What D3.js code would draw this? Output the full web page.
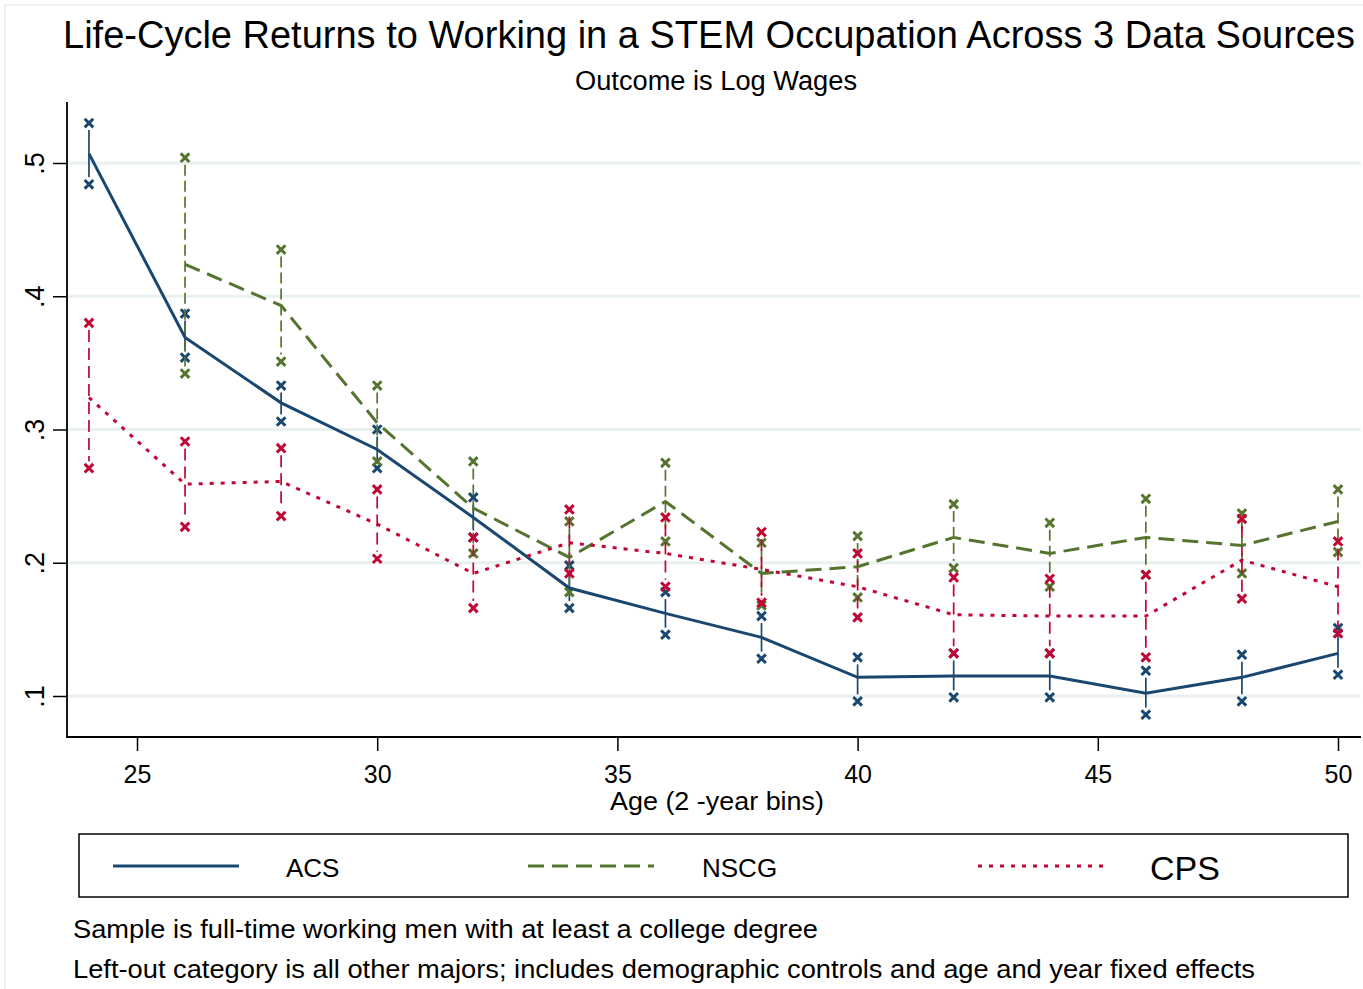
<!DOCTYPE html>
<html>
<head>
<meta charset="utf-8">
<script src="https://cdn.jsdelivr.net/npm/d3@7"></script>
<style>
  body { margin: 0; background: #fff; }
  svg { display: block; font-family: "Liberation Sans", Arial, sans-serif; }
</style>
</head>
<body>
<svg width="1363" height="989"></svg>
<script>
var ages = [24, 26, 28, 30, 32, 34, 36, 38, 40, 42, 44, 46, 48, 50];
var xTicks = [25, 30, 35, 40, 45, 50];
var yTicks = [0.1, 0.2, 0.3, 0.4, 0.5];

var acs   = [0.507, 0.369, 0.320, 0.285, 0.234, 0.181, 0.162, 0.144, 0.114, 0.115, 0.115, 0.102, 0.114, 0.132];
var acsLo = [0.484, 0.354, 0.306, 0.271, 0.219, 0.166, 0.146, 0.128, 0.096, 0.099, 0.099, 0.086, 0.096, 0.116];
var acsHi = [0.530, 0.387, 0.333, 0.300, 0.249, 0.198, 0.178, 0.160, 0.129, 0.132, 0.132, 0.119, 0.131, 0.151];

var nscg   = [null, 0.424, 0.393, 0.305, 0.241, 0.204, 0.246, 0.192, 0.197, 0.219, 0.207, 0.219, 0.213, 0.231];
var nscgLo = [null, 0.342, 0.351, 0.276, 0.207, 0.178, 0.216, 0.168, 0.174, 0.196, 0.182, 0.191, 0.192, 0.208];
var nscgHi = [null, 0.504, 0.435, 0.333, 0.276, 0.231, 0.275, 0.215, 0.220, 0.244, 0.230, 0.248, 0.237, 0.255];

var cps   = [0.324, 0.259, 0.261, 0.229, 0.192, 0.215, 0.207, 0.195, 0.182, 0.161, 0.160, 0.160, 0.202, 0.182];
var cpsLo = [0.271, 0.227, 0.235, 0.203, 0.166, 0.192, 0.182, 0.170, 0.159, 0.132, 0.132, 0.129, 0.173, 0.147];
var cpsHi = [0.380, 0.291, 0.286, 0.255, 0.219, 0.240, 0.234, 0.223, 0.207, 0.189, 0.188, 0.191, 0.233, 0.216];

var seriesNames = ["ACS", "NSCG", "CPS"];

var svg = d3.select("svg");
var x = d3.scaleLinear().domain([25, 50]).range([137, 1338]);
var y = d3.scaleLinear().domain([0.1, 0.5]).range([696, 163]);

var series = [
  { name: "ACS",  mid: acs,  lo: acsLo,  hi: acsHi,  color: "#1a476f", line: null,    bar: null },
  { name: "NSCG", mid: nscg, lo: nscgLo, hi: nscgHi, color: "#55752f", line: "16,8",  bar: "11,5" },
  { name: "CPS",  mid: cps,  lo: cpsLo,  hi: cpsHi,  color: "#c10534", line: "4,7",   bar: "12,6" }
];

function rows(s) {
  return ages.map(function(a, i) {
    return { age: a, mid: s.mid[i], lo: s.lo[i], hi: s.hi[i] };
  }).filter(function(d) { return d.mid != null; });
}

// little "x" marker
function cross(g, cx, cy, color) {
  var r = 4.3;
  g.append("path")
    .attr("d", "M" + (cx - r) + "," + (cy - r) + "L" + (cx + r) + "," + (cy + r) +
               "M" + (cx - r) + "," + (cy + r) + "L" + (cx + r) + "," + (cy - r))
    .attr("stroke", color)
    .attr("stroke-width", 3)
    .attr("fill", "none");
}

// faint outer frame
svg.append("rect")
  .attr("x", 5).attr("y", 5).attr("width", 1370).attr("height", 1000)
  .attr("fill", "none").attr("stroke", "#e6eeee").attr("stroke-width", 1.5);

// gridlines
svg.append("g").selectAll("line")
  .data(yTicks).enter().append("line")
    .attr("x1", 67).attr("x2", 1361)
    .attr("y1", function(d) { return y(d); })
    .attr("y2", function(d) { return y(d); })
    .attr("stroke", "#e8f0f0")
    .attr("stroke-width", 3);

// axes
var yAxis = svg.append("g")
  .attr("transform", "translate(67,0)")
  .call(d3.axisLeft(y).tickValues(yTicks).tickSize(14).tickFormat(function(d) { return d3.format(".1f")(d).replace(/^0/, ""); }));
yAxis.select(".domain").remove();
yAxis.selectAll(".tick line").attr("stroke", "#000").attr("stroke-width", 1.5);
yAxis.selectAll(".tick text")
  .attr("x", null).attr("dy", null)
  .attr("text-anchor", "middle")
  .attr("transform", "translate(-23,0) rotate(-90)")
  .attr("font-size", 27)
  .attr("font-family", "Liberation Sans, Arial, sans-serif")
  .attr("fill", "#000");

var xAxis = svg.append("g")
  .attr("transform", "translate(0,737)")
  .call(d3.axisBottom(x).tickValues(xTicks).tickSize(14).tickFormat(d3.format("d")));
xAxis.select(".domain").remove();
xAxis.selectAll(".tick line").attr("stroke", "#000").attr("stroke-width", 1.5);
xAxis.selectAll(".tick text")
  .attr("y", 46).attr("dy", null)
  .attr("font-size", 25)
  .attr("font-family", "Liberation Sans, Arial, sans-serif")
  .attr("fill", "#000");

svg.append("path")
  .attr("d", "M67,102V737H1361")
  .attr("fill", "none").attr("stroke", "#000").attr("stroke-width", 1.8);

// confidence bars with x caps
var bars = svg.append("g");
series.forEach(function(s) {
  rows(s).forEach(function(d) {
    var cx = x(d.age), yHi = y(d.hi), yLo = y(d.lo);
    bars.append("line")
      .attr("x1", cx).attr("x2", cx)
      .attr("y1", yHi + 7).attr("y2", yLo - 7)
      .attr("stroke", s.color)
      .attr("stroke-width", 1.7)
      .attr("stroke-dasharray", s.bar);
    cross(bars, cx, yHi, s.color);
    cross(bars, cx, yLo, s.color);
  });
});

// point estimate lines
var line = d3.line()
  .x(function(d) { return x(d.age); })
  .y(function(d) { return y(d.mid); });

series.forEach(function(s) {
  svg.append("path")
    .datum(rows(s))
    .attr("d", line)
    .attr("fill", "none")
    .attr("stroke", s.color)
    .attr("stroke-width", 3)
    .attr("stroke-dasharray", s.line);
});

// titles
svg.append("text")
  .attr("x", 709).attr("y", 48)
  .attr("text-anchor", "middle")
  .attr("font-size", 38)
  .attr("textLength", 1292).attr("lengthAdjust", "spacingAndGlyphs")
  .text("Life-Cycle Returns to Working in a STEM Occupation Across 3 Data Sources");

svg.append("text")
  .attr("x", 716).attr("y", 90)
  .attr("text-anchor", "middle")
  .attr("font-size", 27)
  .attr("textLength", 282).attr("lengthAdjust", "spacingAndGlyphs")
  .text("Outcome is Log Wages");

svg.append("text")
  .attr("x", 717).attr("y", 810)
  .attr("text-anchor", "middle")
  .attr("font-size", 26)
  .attr("textLength", 214).attr("lengthAdjust", "spacingAndGlyphs")
  .text("Age (2 -year bins)");

// legend
var legend = svg.append("g");
legend.append("rect")
  .attr("x", 79).attr("y", 834).attr("width", 1269).attr("height", 63)
  .attr("fill", "none").attr("stroke", "#000").attr("stroke-width", 1.5);

var legX = [113, 528, 978];
var legLabelX = [286, 702, 1150];
var legSize = [26, 26, 34];
series.forEach(function(s, i) {
  legend.append("line")
    .attr("x1", legX[i]).attr("x2", legX[i] + 126)
    .attr("y1", 866).attr("y2", 866)
    .attr("stroke", s.color)
    .attr("stroke-width", 3)
    .attr("stroke-dasharray", s.line);
  legend.append("text")
    .attr("x", legLabelX[i]).attr("y", i == 2 ? 880 : 877)
    .attr("font-size", legSize[i])
    .text(seriesNames[i]);
});

// notes
svg.append("text")
  .attr("x", 73).attr("y", 938)
  .attr("font-size", 25)
  .attr("textLength", 745).attr("lengthAdjust", "spacingAndGlyphs")
  .text("Sample is full-time working men with at least a college degree");

svg.append("text")
  .attr("x", 73).attr("y", 978)
  .attr("font-size", 25)
  .attr("textLength", 1182).attr("lengthAdjust", "spacingAndGlyphs")
  .text("Left-out category is all other majors; includes demographic controls and age and year fixed effects");
</script>
</body>
</html>
